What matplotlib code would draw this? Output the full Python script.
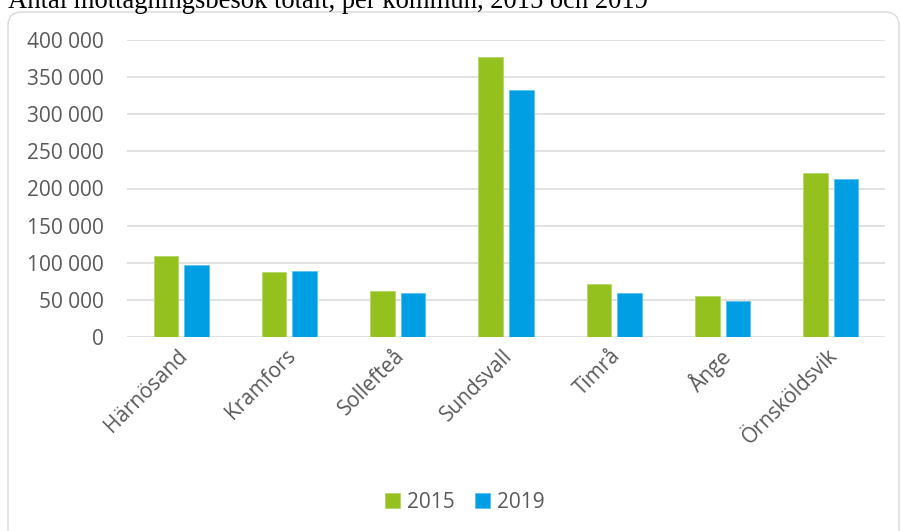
import matplotlib
matplotlib.use("Agg")
import matplotlib.pyplot as plt
from matplotlib.patches import FancyBboxPatch
from matplotlib.transforms import IdentityTransform, ScaledTranslation
import numpy as np

# Data: mottagningsbesök per kommun
kommuner = ["Härnösand", "Kramfors", "Sollefteå", "Sundsvall", "Timrå", "Ånge", "Örnsköldsvik"]
besok_2015 = [109000, 88000, 62000, 376500, 71000, 55000, 221500]
besok_2019 = [96500, 88500, 59500, 332000, 59000, 49000, 213000]
serier = ["2015", "2019"]
yticks = [0, 50000, 100000, 150000, 200000, 250000, 300000, 350000, 400000]

GREEN = "#95C11F"
BLUE = "#009FE3"
TEXT = "#595959"
GRID = "#D9D9D9"
FONT = "Open Sans"
FS = 15

W, H, DPI = 901, 531, 100
fig = plt.figure(figsize=(W / DPI, H / DPI), dpi=DPI)

# Rounded chart frame (pixel coordinates), drawn behind the axes
frame = FancyBboxPatch((8, -20), 891, H - 12 + 20,
                       boxstyle="round,pad=0,rounding_size=14",
                       transform=IdentityTransform(), facecolor="white",
                       edgecolor=GRID, linewidth=1.0, zorder=-1)
fig.patches.append(frame)

# Title (partially clipped at the top edge)
fig.text(8 / W, 1 - 8 / H, "Antal mottagningsbesök totalt, per kommun, 2015 och 2019",
         family="Liberation Serif", fontsize=19.2, color="black",
         ha="left", va="baseline")

left, right, top, bottom = 127, 885, 40, 337
ax = fig.add_axes([left / W, (H - bottom) / H, (right - left) / W, (bottom - top) / H])
ax.set_facecolor("none")

x = np.arange(len(kommuner))
bw = 0.226
off = 0.141
ax.bar(x - off, besok_2015, width=bw, color=GREEN, edgecolor="#B5D66A",
       linewidth=0.6, label=serier[0], zorder=3)
ax.bar(x + off, besok_2019, width=bw, color=BLUE, edgecolor="#5CC3EE",
       linewidth=0.6, label=serier[1], zorder=3)

ax.set_xlim(-0.5, len(kommuner) - 0.5)
ax.set_ylim(0, 400000)
ax.set_yticks(yticks)
ax.set_yticklabels([f"{v:,}".replace(",", " ") for v in yticks],
                   family=FONT, fontsize=FS, color=TEXT)
ax.yaxis.grid(True, color=GRID, linewidth=1.1, zorder=0)
ax.set_axisbelow(True)
ax.tick_params(axis="y", length=0, pad=17)

ax.set_xticks(x)
ax.set_xticklabels(kommuner, family=FONT, fontsize=FS, color=TEXT,
                   rotation=45, ha="right", va="top", rotation_mode="anchor")
ax.tick_params(axis="x", length=0, pad=6)
for lab in ax.get_xticklabels():
    lab.set_transform(lab.get_transform() + ScaledTranslation(-4 / DPI, 0, fig.dpi_scale_trans))

for s in ax.spines.values():
    s.set_visible(False)

leg = fig.legend(loc="center", bbox_to_anchor=(465 / W, (H - 502) / H), ncol=2,
                 frameon=False, handlelength=0.7, handleheight=0.7,
                 handletextpad=0.35, columnspacing=1.0,
                 prop={"family": FONT, "size": FS})
for t in leg.get_texts():
    t.set_color(TEXT)

fig.savefig("out.png", dpi=DPI)
